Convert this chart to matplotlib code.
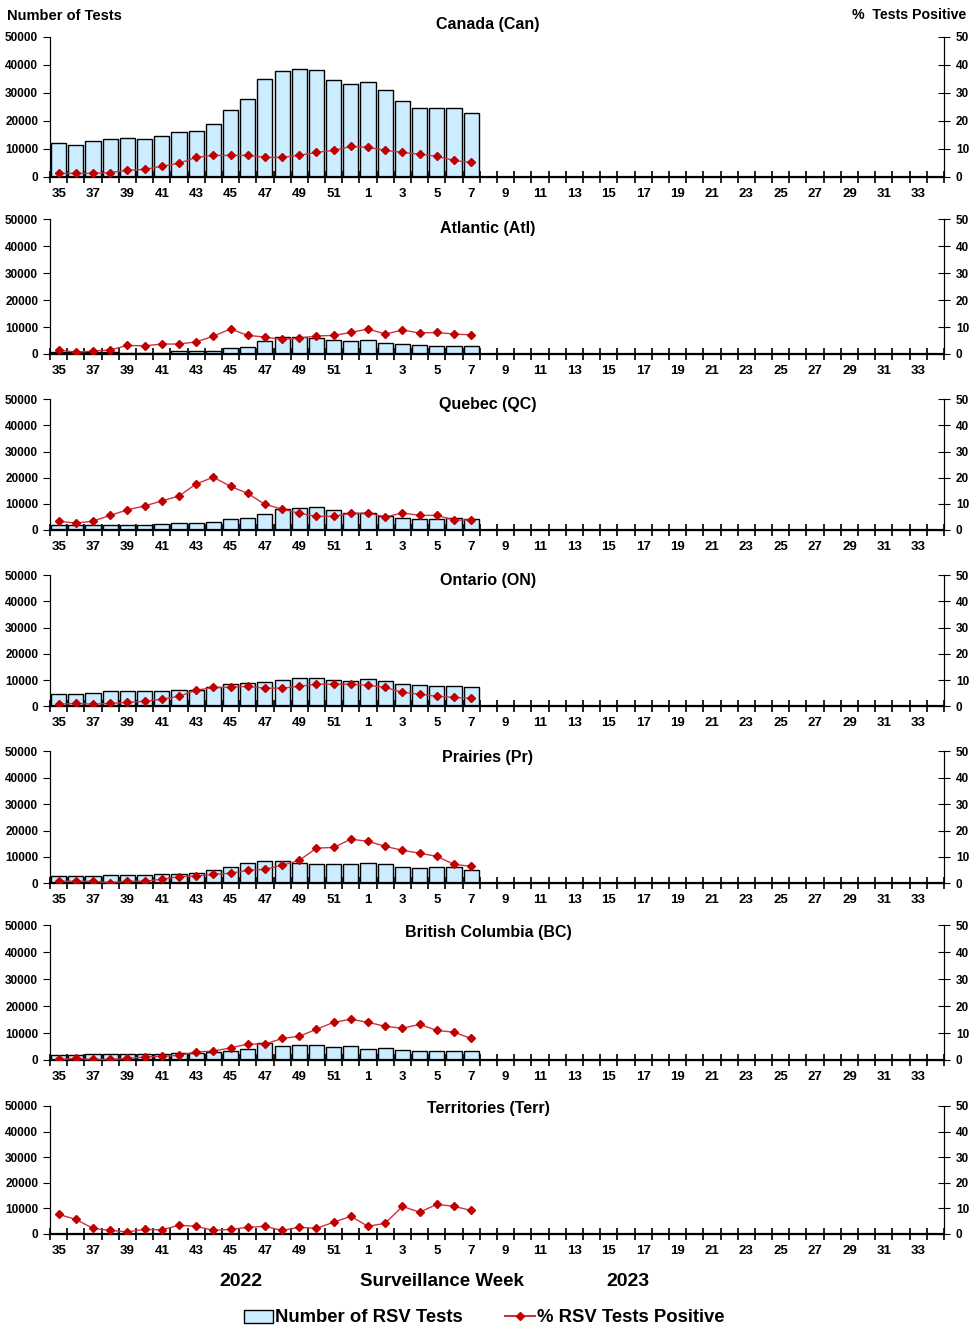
import numpy as np
import matplotlib
matplotlib.use("Agg")
import matplotlib.pyplot as plt
from matplotlib.patches import Patch
from matplotlib.lines import Line2D

plt.rcParams['font.family'] = ['Liberation Sans', 'DejaVu Sans']

# surveillance weeks 35-52 (2022) then 1-34 (2023)
weeks = list(range(35, 53)) + list(range(1, 35))
tick_labels = [str(w) if i % 2 == 0 else "" for i, w in enumerate(weeks)]

regions = ["Canada (Can)", "Atlantic (Atl)", "Quebec (QC)", "Ontario (ON)",
           "Prairies (Pr)", "British Columbia (BC)", "Territories (Terr)"]

# number of RSV tests, weeks 35..7
tests_can = [11900, 11500, 12600, 13300, 13700, 13300, 14400, 15800, 16500, 19000,
             23700, 27600, 34800, 37600, 38300, 38000, 34400, 33000, 33700, 30800,
             26900, 24400, 24400, 24400, 22600]
tests_atl = [900, 600, 600, 600, 500, 500, 500, 1100, 1100, 1100,
             2200, 2600, 4800, 6300, 6300, 5900, 5200, 4800, 5200, 4100,
             3700, 3300, 3000, 3000, 3000]
tests_qc = [1900, 1900, 1900, 1900, 1900, 1900, 2300, 2700, 2700, 3100,
            4200, 4600, 6100, 8000, 8400, 8800, 7700, 6500, 6500, 5400,
            4600, 4200, 4200, 4600, 4200]
tests_on = [4600, 4600, 4900, 5700, 5700, 5700, 5700, 6100, 6100, 7200,
            8400, 8800, 9100, 9900, 10700, 10700, 9900, 9500, 10300, 9500,
            8400, 8000, 7600, 7600, 7200]
tests_pr = [2700, 2700, 2700, 3000, 3000, 3000, 3400, 3400, 3800, 4900,
            6100, 7600, 8300, 8300, 7600, 7200, 7200, 7200, 7600, 7200,
            6100, 5700, 6100, 6100, 4900]
tests_bc = [1900, 1900, 2200, 2200, 2200, 2200, 2200, 2600, 2600, 3000,
            3300, 4100, 6300, 5200, 5600, 5600, 4800, 5200, 4100, 4500,
            3700, 3300, 3300, 3300, 3300]
tests_terr = [80, 70, 60, 60, 60, 70, 70, 80, 80, 70,
              80, 90, 90, 100, 100, 110, 100, 90, 90, 100,
              100, 100, 90, 90, 90]

# % RSV tests positive, weeks 35..7
pos_can = [1.2, 1.2, 1.2, 1.5, 2.3, 2.6, 3.7, 4.8, 6.9, 7.6,
           7.6, 7.6, 6.9, 6.9, 7.6, 8.7, 9.4, 10.8, 10.5, 9.4,
           8.7, 8.0, 7.3, 5.8, 5.1]
pos_atl = [1.5, 0.7, 1.1, 1.5, 3.2, 3.0, 3.7, 3.7, 4.5, 6.6,
           9.3, 6.9, 6.3, 5.4, 5.9, 6.7, 6.9, 8.0, 9.3, 7.4,
           8.9, 7.8, 8.0, 7.4, 7.1]
pos_qc = [3.4, 2.6, 3.4, 5.6, 7.7, 9.2, 11.1, 13.0, 17.6, 20.2,
          16.7, 14.0, 9.8, 8.0, 6.4, 5.2, 5.2, 6.4, 6.5, 5.0,
          6.5, 5.6, 5.6, 3.8, 3.8]
pos_on = [0.8, 1.1, 0.8, 1.1, 1.5, 1.9, 2.7, 3.8, 6.1, 7.2,
          7.2, 7.6, 6.9, 6.9, 7.6, 8.4, 8.4, 8.4, 8.0, 7.2,
          5.3, 4.6, 3.8, 3.4, 3.0]
pos_pr = [0.8, 0.8, 0.8, 0.3, 0.8, 0.8, 1.5, 2.5, 2.7, 3.4,
          3.8, 4.9, 5.3, 6.8, 8.7, 13.3, 13.6, 16.7, 15.9, 14.0,
          12.5, 11.4, 10.2, 7.2, 6.4]
pos_bc = [0.2, 0.6, 0.2, 0.2, 0.6, 1.1, 1.4, 1.7, 3.0, 3.3,
          4.5, 5.9, 5.9, 8.0, 8.8, 11.4, 14.0, 15.1, 14.0, 12.5,
          11.8, 13.2, 11.0, 10.3, 8.0]
pos_terr = [7.7, 5.7, 2.2, 1.4, 0.8, 1.8, 1.6, 3.4, 3.0, 1.4,
            1.8, 2.6, 3.0, 1.4, 2.6, 2.2, 4.6, 6.9, 3.0, 4.2,
            10.8, 8.5, 11.6, 10.8, 9.2]

tests_all = [tests_can, tests_atl, tests_qc, tests_on, tests_pr, tests_bc, tests_terr]
pos_all = [pos_can, pos_atl, pos_qc, pos_on, pos_pr, pos_bc, pos_terr]

W, H = 976, 1334
fig = plt.figure(figsize=(W / 100, H / 100), dpi=100)

bar_color = "#CCECFF"
line_color = "#D03040"
marker_color = "#C00000"

# panel frames in pixels (top, bottom) and title heights
tops = [36.7, 219.3, 399.3, 575, 751.3, 925.3, 1106]
bottoms = [176.7, 354, 530, 706.3, 883.3, 1060, 1234]
title_ys = [24, 229, 405, 581, 757, 933, 1109]

x_all = np.arange(len(weeks))
left_px, right_px = 50, 944
for i, region in enumerate(regions):
    top_px, bottom_px = tops[i], bottoms[i]
    ax = fig.add_axes([left_px / W, 1 - bottom_px / H,
                       (right_px - left_px) / W, (bottom_px - top_px) / H])
    n = len(tests_all[i])
    x = x_all[:n]
    ax.bar(x, tests_all[i], width=0.88, color=bar_color, edgecolor="black",
           linewidth=1.0, zorder=2)
    ax.set_xlim(-0.5, len(weeks) - 0.5)
    ax.set_ylim(0, 50000)
    ax.set_yticks(range(0, 50001, 10000))
    ax.spines["top"].set_visible(False)
    ax.spines["bottom"].set_linewidth(1.6)
    ax.set_xticks(x_all)
    ax.set_xticklabels(tick_labels, fontsize=9.5, fontweight="bold")
    ax.tick_params(axis="x", which="major", length=0, pad=8)
    ax.set_xticks(np.arange(-0.5, len(weeks)), minor=True)
    ax.tick_params(axis="x", which="minor", direction="inout", length=9, width=1.2)
    ax.tick_params(axis="y", direction="out", length=5, labelsize=8.5)
    for lab in ax.get_yticklabels():
        lab.set_fontweight("bold")

    ax2 = ax.twinx()
    ax2.set_ylim(0, 50)
    ax2.set_yticks(range(0, 51, 10))
    ax2.spines["top"].set_visible(False)
    ax2.tick_params(axis="y", direction="inout", length=9, labelsize=8.5, pad=4)
    for lab in ax2.get_yticklabels():
        lab.set_fontweight("bold")
    ax2.plot(x, pos_all[i], color=line_color, linewidth=1.0, marker="D",
             markersize=4.5, markerfacecolor=marker_color,
             markeredgecolor=marker_color, zorder=3)

    fig.text(488 / W, 1 - title_ys[i] / H, region, ha="center", va="center",
             fontsize=11.5, fontweight="bold")

fig.text(7 / W, 1 - 16 / H, "Number of Tests", ha="left", va="center",
         fontsize=10.5, fontweight="bold")
fig.text(966 / W, 1 - 15 / H, "%  Tests Positive", ha="right", va="center",
         fontsize=10.2, fontweight="bold")

narrow = ["Liberation Sans Narrow", "Liberation Sans", "DejaVu Sans"]
fig.text(241 / W, 1 - 1281 / H, "2022", ha="center", va="center",
         fontsize=14, fontweight="bold", family=narrow)
fig.text(442 / W, 1 - 1281 / H, "Surveillance Week", ha="center", va="center",
         fontsize=13.5, fontweight="bold", family=narrow)
fig.text(628 / W, 1 - 1281 / H, "2023", ha="center", va="center",
         fontsize=14, fontweight="bold", family=narrow)

handles = [Patch(facecolor=bar_color, edgecolor="black", label="Number of RSV Tests"),
           Line2D([0], [0], color=line_color, marker="D", markersize=4,
                  markerfacecolor=marker_color, markeredgecolor=marker_color,
                  label="% RSV Tests Positive")]
fig.legend(handles=handles, loc="center", bbox_to_anchor=(484 / W, 1 - 1318 / H),
           ncol=2, frameon=False, handlelength=1.6, handletextpad=0.1,
           columnspacing=2.3, prop={"family": narrow, "weight": "bold", "size": 13.3})

fig.savefig("out.png", dpi=100)
